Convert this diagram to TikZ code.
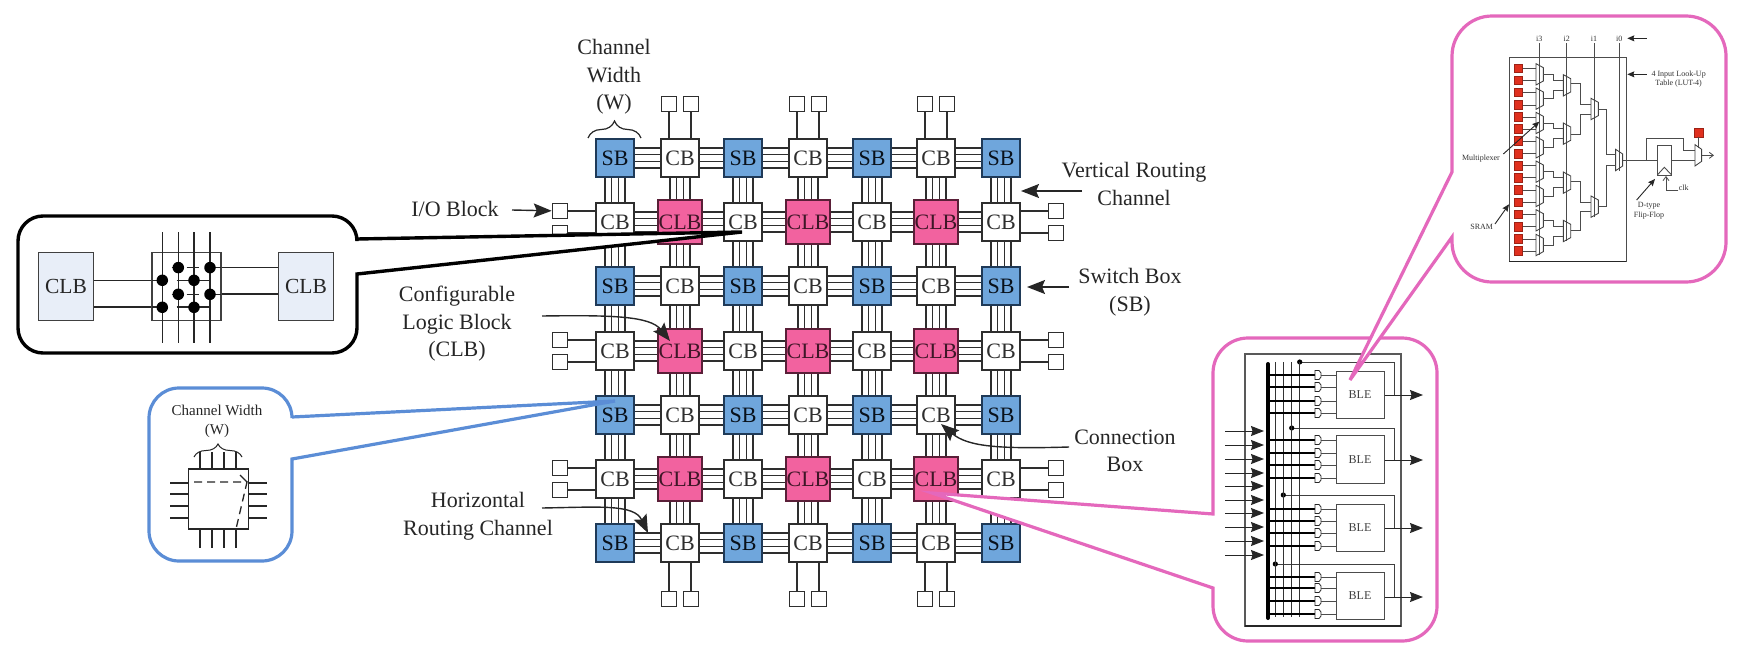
\documentclass[tikz,border=0pt]{standalone}
\usepackage{fontspec}
\setmainfont{Liberation Serif}
\usetikzlibrary{arrows.meta,decorations.pathreplacing}
\definecolor{wirec}{HTML}{2E2E2E}
\definecolor{sbfill}{HTML}{6FA6DC}
\definecolor{sbline}{HTML}{1F3A58}
\definecolor{clbfill}{HTML}{F2629F}
\definecolor{clbline}{HTML}{5A1F38}
\definecolor{pinkc}{HTML}{E468BC}
\definecolor{bluec}{HTML}{5B8DD6}
\definecolor{insetfill}{HTML}{E8EEF8}
\definecolor{sramc}{HTML}{E0301E}
\tikzset{
  gridbox/.style={draw,rectangle,inner sep=0pt,line width=1.6pt,minimum size=38pt,font=\fontsize{22}{24}\selectfont},
  sbbox/.style={gridbox,fill=sbfill,draw=sbline,text=black!70!sbline},
  cbbox/.style={gridbox,fill=white,draw=wirec,text=wirec},
  clbbox/.style={gridbox,fill=clbfill,draw=clbline,text=clbline!70!black,minimum size=44pt},
  padbox/.style={draw=wirec,rectangle,fill=white,line width=1.6pt,minimum size=15pt,inner sep=0pt},
  wire/.style={draw=wirec,line width=1.5pt},
  lbl/.style={align=center,inner sep=0pt,text=black!85,font=\fontsize{22}{27.5}\selectfont},
  bigarrow/.style={draw=black!85,line width=1.4pt,-{Stealth[length=18pt,width=14pt,inset=3pt]}},
  calloutk/.style={draw=black,fill=white,line width=3.4pt,line join=miter},
  calloutb/.style={draw=bluec,fill=white,line width=3.2pt,line join=miter},
  calloutp/.style={draw=pinkc,fill=white,line width=3.2pt,line join=miter},
  thinw/.style={draw=black!85,line width=1.3pt},
  clbinset/.style={draw=black!75,fill=insetfill,line width=1.3pt,rectangle,inner sep=0pt,minimum width=55pt,minimum height=68pt,font=\fontsize{21.5}{24}\selectfont,text=black!85},
  xdot/.style={circle,fill=black,draw=none,minimum size=11.5pt,inner sep=0pt},
  blebox/.style={draw=black!70,fill=white,line width=1pt,rectangle,inner sep=0pt,minimum width=48pt,minimum height=47.5pt,font=\fontsize{12}{14}\selectfont,text=black!75},
  lutw/.style={draw=black!70,line width=.9pt},
  luttext/.style={inner sep=0pt,align=center,text=black!80,font=\fontsize{8}{9.5}\selectfont},
  lutarrow/.style={draw=black!85,line width=.9pt,-{Stealth[length=7pt,width=6pt,inset=1pt]}},
  srambox/.style={rectangle,fill=sramc,draw=sramc!70!black,line width=.4pt,minimum size=8.6pt,inner sep=0pt},
  bleout/.style={draw=black!85,line width=1pt,-{Stealth[length=13pt,width=10pt,inset=1.5pt]}},
}
\begin{document}
\begin{tikzpicture}[x=1pt,y=-1pt]
\useasboundingbox (0,0) rectangle (1744,656);
% ---- grid nodes
\foreach \c/\xx in {1/615,2/680,3/743,4/808,5/872,6/936,7/1001}{
  \foreach \r/\yy in {1/158,2/222,3/286,4/351,5/415,6/479,7/543}{
    \pgfmathtruncatemacro{\kind}{mod(\r,2)*2+mod(\c,2)}
    \ifnum\kind=3 \node[sbbox] (n\c-\r) at (\xx,\yy) {SB};\fi
    \ifnum\kind=2 \node[cbbox] (n\c-\r) at (\xx,\yy) {CB};\fi
    \ifnum\kind=1 \node[cbbox] (n\c-\r) at (\xx,\yy) {CB};\fi
    \ifnum\kind=0 \node[clbbox] (n\c-\r) at (\xx,\yy) {CLB};\fi
  }
}
% ---- channel wires
\foreach \o in {-10,-3.4,3.4,10}{
  \foreach \r in {1,...,7}{
    \foreach \c/\d in {1/2,2/3,3/4,4/5,5/6,6/7}{
      \draw[wire] ([yshift=\o pt]n\c-\r.east) -- ([yshift=\o pt]n\d-\r.west);
    }
  }
  \foreach \c in {1,...,7}{
    \foreach \r/\s in {1/2,2/3,3/4,4/5,5/6,6/7}{
      \draw[wire] ([xshift=\o pt]n\c-\r.south) -- ([xshift=\o pt]n\c-\s.north);
    }
  }
}
% ---- I/O pads
\foreach \c/\xx in {2/680,4/808,6/936}{
  \node[padbox] (pt\c a) at (\xx-11,104) {};
  \node[padbox] (pt\c b) at (\xx+11,104) {};
  \node[padbox] (pb\c a) at (\xx-11,599) {};
  \node[padbox] (pb\c b) at (\xx+11,599) {};
  \draw[wire] (pt\c a) -- (pt\c a |- n\c-1.north);
  \draw[wire] (pt\c b) -- (pt\c b |- n\c-1.north);
  \draw[wire] (pb\c a) -- (pb\c a |- n\c-7.south);
  \draw[wire] (pb\c b) -- (pb\c b |- n\c-7.south);
}
\foreach \r/\yy in {2/222,4/351,6/479}{
  \node[padbox] (pl\r a) at (560,\yy-11) {};
  \node[padbox] (pl\r b) at (560,\yy+11) {};
  \node[padbox] (pr\r a) at (1056,\yy-11) {};
  \node[padbox] (pr\r b) at (1056,\yy+11) {};
  \draw[wire] (pl\r a) -- (pl\r a -| n1-\r.west);
  \draw[wire] (pl\r b) -- (pl\r b -| n1-\r.west);
  \draw[wire] (pr\r a) -- (pr\r a -| n7-\r.east);
  \draw[wire] (pr\r b) -- (pr\r b -| n7-\r.east);
}
% ---- labels and pointers
\node[lbl] (lw) at (614,77) {Channel\\Width\\(W)};
\coordinate (bl) at (588,138); \coordinate (br) at (641,138);
\draw[decorate,decoration={brace,amplitude=17pt},draw=black!85,line width=1.2pt] (bl) -- (br);
\node[lbl] (lio) at (455,209) {I/O Block};
\coordinate (aio) at (512,210); \draw[bigarrow] (aio) -- (pl2a);
\node[lbl] (lclb) at (457,324) {Configurable\\Logic Block\\(CLB)};
\coordinate (aclb) at (542,316);
\coordinate (tclb) at (670,341);
\draw[bigarrow] (aclb) .. controls (612,315) and (650,316) .. (tclb);
\node[lbl] (lv) at (1134,184) {Vertical Routing\\Channel};
\coordinate (av) at (1082,191); \coordinate (tv) at (1021,191);
\draw[bigarrow] (av) -- (tv);
\node[lbl] (ls) at (1130,292) {Switch Box\\(SB)};
\coordinate (as) at (1069,287); \coordinate (ts) at (1027,287);
\draw[bigarrow] (as) -- (ts);
\node[lbl] (lc) at (1125,451) {Connection\\Box};
\coordinate (ac) at (1069,447); \coordinate (tc) at (941,424);
\draw[bigarrow] (ac) .. controls (1000,449) and (968,447) .. (tc);
\node[lbl] (lh) at (478,516) {Horizontal\\Routing Channel};
\coordinate (ah) at (542,508); \coordinate (th) at (648,533);
\draw[bigarrow] (ah) .. controls (600,507) and (634,504) .. (th);
% ---- black callout
\coordinate (tipk) at (742,232);
\draw[calloutk] (357,239) -- (tipk) -- (357,274) [rounded corners=25pt] -- (357,353) -- (18,353) -- (18,216) -- (357,216) [sharp corners] -- cycle;
\node[clbinset] (ic1) at (66,286.5) {CLB};
\node[clbinset] (ic2) at (306,286.5) {CLB};
\node[draw=black!75,line width=1.3pt,rectangle,minimum width=69pt,minimum height=68.5pt,inner sep=0pt] (icb) at (186.5,286.5) {};
\draw[thinw] (ic1.east |- 0,280.3) -- (icb.west |- 0,280.3);
\draw[thinw] (ic1.east |- 0,307) -- (icb.west |- 0,307);
\draw[thinw] (icb.east |- 0,267.3) -- (ic2.west |- 0,267.3);
\draw[thinw] (icb.east |- 0,294) -- (ic2.west |- 0,294);
\foreach \xx in {162.3,178.3,194,210} \draw[thinw] (\xx,232) -- (\xx,343);
\foreach \yy in {267.3,294.3}{
  \draw[thinw] (171.5,\yy) -- (178.3,\yy);
  \draw[thinw] (186.5,\yy) -- (199,\yy);
  \draw[thinw] (205,\yy) -- (221,\yy);
}
\foreach \yy in {280.3,307}{
  \draw[thinw] (152,\yy) -- (162.3,\yy);
  \draw[thinw] (176.5,\yy) -- (210,\yy);
}
\foreach \i/\xx/\yy in {a/178.3/267.6,b/210/267.6,c/162.3/280.3,d/194/280.3,e/178.3/294.3,f/210/294.3,g/162.3/307.3,h/194/307.3}
  \node[xdot] (dot\i) at (\xx,\yy) {};
% ---- blue callout
\coordinate (tipb) at (615,401);
\draw[calloutb] (292,417) -- (tipb) -- (292,459) [rounded corners=30pt] -- (292,561) -- (149,561) -- (149,388) -- (292,388) [sharp corners] -- cycle;
\node[inner sep=0pt,align=center,text=black!85,font=\fontsize{15}{19}\selectfont] (lcw) at (217,421.5) {Channel Width\\(W)};
\coordinate (cl) at (194,457); \coordinate (cr) at (242,457);
\draw[decorate,decoration={brace,amplitude=13pt},draw=black!85,line width=1pt] (cl) -- (cr);
\node[draw=black!85,line width=1.2pt,rectangle,minimum size=60pt,inner sep=0pt] (swb) at (218.5,499) {};
\foreach \xx in {200,212,224,236}{
  \draw[thinw] (\xx,452) -- (\xx,469);
  \draw[thinw] (\xx,529) -- (\xx,548);
}
\foreach \yy in {483,494,506,518}{
  \draw[thinw] (170,\yy) -- (188,\yy);
  \draw[thinw] (249,\yy) -- (267,\yy);
}
\draw[thinw,dash pattern=on 8pt off 5pt] (194,482) -- (247,482) -- (236,529);
\draw[thinw] (240,475) -- (247,482);
% ---- BLE callout
\coordinate (tipp) at (932,493);
\draw[calloutp] (1213,514) -- (tipp) -- (1213,588) [rounded corners=35pt] -- (1213,641) -- (1437,641) -- (1437,338) -- (1213,338) [sharp corners] -- cycle;
\draw[draw=black!65,line width=1.1pt] (1245,354) rectangle (1401,626);
\draw[draw=black!85,line width=2pt] (1245,626) -- (1401,626);
\foreach \xx/\ya/\yo in {1299.7/362/395,1291.7/428/460,1283.3/495/528,1275.3/564/597}{
  \draw[draw=black!75,line width=1pt] (\xx,\ya) -- (1394,\ya) -- (1394,\yo);
  \fill[black] (\xx,\ya) circle (2.6pt);
}
\draw[draw=black!80,line width=.9pt] (1299.7,362) -- (1299.7,617);
\draw[draw=black!80,line width=.9pt] (1291.7,362) -- (1291.7,617);
\draw[draw=black!80,line width=.9pt] (1283.3,362) -- (1283.3,617);
\draw[draw=black!80,line width=.9pt] (1275.3,362) -- (1275.3,617);
\draw[draw=black,line width=4pt,line cap=round] (1268,364) -- (1268,618);
\foreach \yy in {375,387,401,413,440,453,465,478,509,521,533,546,577,588,601,614}{
  \draw[draw=black,line width=2pt] (1268,\yy) -- (1315,\yy);
  \draw[draw=black!70,line width=.9pt] (1321,\yy) -- (1336,\yy);
  \draw[draw=black!85,line width=.8pt,fill=white] (1315,\yy-4.5) -- (1319,\yy-4.5) -- (1321,\yy-2) -- (1321,\yy+2) -- (1319,\yy+4.5) -- (1315,\yy+4.5) -- cycle;
}
\foreach \i/\yy/\yo in {1/395/395,2/459.5/460,3/528/528,4/596/597}{
  \node[blebox] (ble\i) at (1360,\yy) {BLE};
  \coordinate (o\i) at (1423,\yo);
  \draw[bleout] (ble\i.east |- o\i) -- (o\i);
}
\foreach \yy in {431,445,459,473,486,500,513,527,541,555}{
  \coordinate (ia) at (1225,\yy); \coordinate (ib) at (1264,\yy);
  \draw[bleout] (ia) -- (ib);
}
% ---- LUT callout
\coordinate (tipl) at (1350,380);
\draw[calloutp] (1452,172) -- (tipl) -- (1452,237) [rounded corners=40pt] -- (1452,282) -- (1726,282) -- (1726,16) -- (1452,16) [sharp corners] -- cycle;
\begin{scope}[shift={(1440,10)},x=0.3333pt,y=-0.3333pt]
  \draw[draw=black!70,line width=.9pt] (208,143) rectangle (558,755);
  \draw[draw=black!85,line width=1.5pt] (208,755) -- (558,755);
  \foreach \i/\yy in {1/175,2/211,3/247,4/285,5/321,6/357,7/393,8/431,9/467,10/503,11/540,12/577,13/613,14/650,15/687,16/723}{
    \node[srambox] (s\i) at (234,\yy) {};
    \draw[lutw] (s\i.east) -- (288,\yy);
  }
  \foreach \xx/\ye/\nm in {298/735/i3,380/692/i2,462/622/i1,538/482/i0}{
    \draw[lutw] (\xx,100) -- (\xx,\ye);
    \node[luttext] at (\xx,87) {\nm};
  }
  % multiplexers
  \foreach \xa/\xb/\hh/\hi/\ys in {288/310/32/20/{193,266,339,412,485,558,631,705},370/392/32/20/{226,371,518,663},453/475/32/20/{297,590},527/548/32/18/{450},765/785/32/18/{436}}{
    \foreach \cc in \ys{
      \draw[draw=black!75,line width=.85pt] (\xa,\cc-\hh) -- (\xb,\cc-\hi) -- (\xb,\cc+\hi) -- (\xa,\cc+\hh) -- cycle;
    }
  }
  \foreach \a/\b/\c/\d in {193/211/340/370,266/240/340/370,339/355/340/370,412/385/340/370,485/503/340/370,558/532/340/370,631/648/340/370,705/678/340/370}{
    \draw[lutw] (310,\a) -| (\c,\b) -- (\d,\b);
  }
  \foreach \a/\b in {220/283,372/312}{
    \draw[lutw] (392,\a) -| (422,\b) -- (453,\b);
  }
  \foreach \a/\b in {515/577,662/604}{
    \draw[lutw] (392,\a) -| (422,\b) -- (453,\b);
  }
  \foreach \a/\b in {297/432,590/465}{
    \draw[lutw] (475,\a) -| (500,\b) -- (527,\b);
  }
  \draw[lutw] (548,450) -- (652,450);
  \draw[lutw] (618,450) -- (618,385) -- (730,385) -- (730,422) -- (765,422);
  \draw[draw=black!70,line width=.9pt] (652,405) rectangle (695,495);
  \draw[draw=black!70,line width=.9pt] (652,495) -- (673,472) -- (695,495);
  \draw[lutw] (695,450) -- (765,450);
  \node[srambox,minimum size=9pt] (sr) at (775,367) {};
  \draw[lutw] (sr) -- (775,414);
  \coordinate (muxo) at (785,436); \coordinate (muxp) at (822,436);
  \draw[draw=black!70,line width=.85pt,-{Straight Barb[length=4pt,width=6pt]}] (muxo) -- (muxp);
  \coordinate (ck) at (715,540);
  \draw[draw=black!70,line width=.85pt,-{Straight Barb[length=4pt,width=6pt]}] (ck) -- (678,540) -- (678,498);
  \node[luttext] (tclk) at (731,532) {clk};
  \node[luttext] (t4) at (716,207) {4 Input Look-Up\\Table (LUT-4)};
  \coordinate (a1) at (620,85); \coordinate (a1t) at (562,85);
  \draw[lutarrow] (a1) -- (a1t);
  \coordinate (a2) at (620,193); \coordinate (a2t) at (562,193);
  \draw[lutarrow] (a2) -- (a2t);
  \node[luttext] (tm) at (123,447) {Multiplexer};
  \coordinate (a3) at (190,432); \coordinate (a3t) at (298,335);
  \draw[lutarrow] (a3) -- (a3t);
  \node[luttext] (ts) at (125,650) {SRAM};
  \coordinate (a4) at (165,642); \coordinate (a4t) at (207,583);
  \draw[lutarrow] (a4) -- (a4t);
  \node[luttext] (td) at (627,603) {D-type\\Flip-Flop};
  \coordinate (a5) at (590,570); \coordinate (a5t) at (645,507);
  \draw[lutarrow] (a5) -- (a5t);
\end{scope}
\end{tikzpicture}
\end{document}
